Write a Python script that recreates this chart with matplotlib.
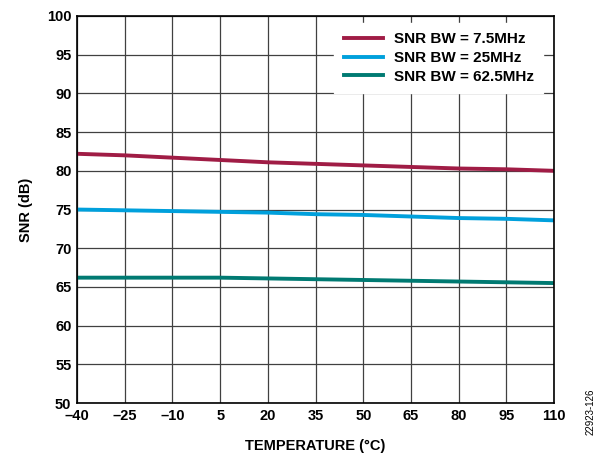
import matplotlib
matplotlib.use("Agg")
import matplotlib.pyplot as plt

plt.rcParams['font.family'] = ['Liberation Sans', 'DejaVu Sans']
plt.rcParams['font.weight'] = 'bold'

# Veriler
temp = [-40, -25, -10, 5, 20, 35, 50, 65, 80, 95, 110]
snr_7p5 = [82.2, 82.0, 81.7, 81.4, 81.1, 80.9, 80.7, 80.5, 80.3, 80.2, 80.0]
snr_25 = [75.0, 74.9, 74.8, 74.7, 74.6, 74.4, 74.3, 74.1, 73.9, 73.8, 73.6]
snr_62p5 = [66.2, 66.2, 66.2, 66.2, 66.1, 66.0, 65.9, 65.8, 65.7, 65.6, 65.5]
labels = ["SNR BW = 7.5MHz", "SNR BW = 25MHz", "SNR BW = 62.5MHz"]
xticks = [-40, -25, -10, 5, 20, 35, 50, 65, 80, 95, 110]
yticks = list(range(50, 101, 5))

fig = plt.figure(figsize=(6.04, 4.57), dpi=100)
ax = fig.add_axes([0.1275, 0.118, 0.79, 0.847])

ax.plot(temp, snr_7p5, color="#A01C45", lw=2.8, label=labels[0])
ax.plot(temp, snr_25, color="#00A0DC", lw=2.8, label=labels[1])
ax.plot(temp, snr_62p5, color="#007A72", lw=2.8, label=labels[2])

ax.set_xlim(-40, 110)
ax.set_ylim(50, 100)
ax.set_xticks(xticks)
ax.set_xticklabels([str(t).replace("-", "\u2013") for t in xticks])
ax.set_yticks(yticks)
ax.grid(True, color="#404040", lw=0.9)
ax.tick_params(length=0, labelsize=10.5, pad=4)
for s in ax.spines.values():
    s.set_color("black")
    s.set_linewidth(1.2)

ax.set_xlabel("TEMPERATURE (°C)", fontsize=10.5, fontweight="bold", labelpad=12)
ax.set_ylabel("SNR (dB)", fontsize=10.5, fontweight="bold", labelpad=10)

leg = ax.legend(loc="upper right", bbox_to_anchor=(0.98, 0.985), frameon=True,
                fontsize=11, handlelength=2.6, handletextpad=0.7,
                borderaxespad=0.1, borderpad=0.6, labelspacing=0.3, fancybox=False)
leg.get_frame().set_edgecolor("white")
leg.get_frame().set_alpha(1)

fig.text(0.977, 0.1, "22923-126", rotation=90, fontsize=7, fontweight="normal",
         ha="center", va="center")

fig.savefig("out.png", dpi=100)
